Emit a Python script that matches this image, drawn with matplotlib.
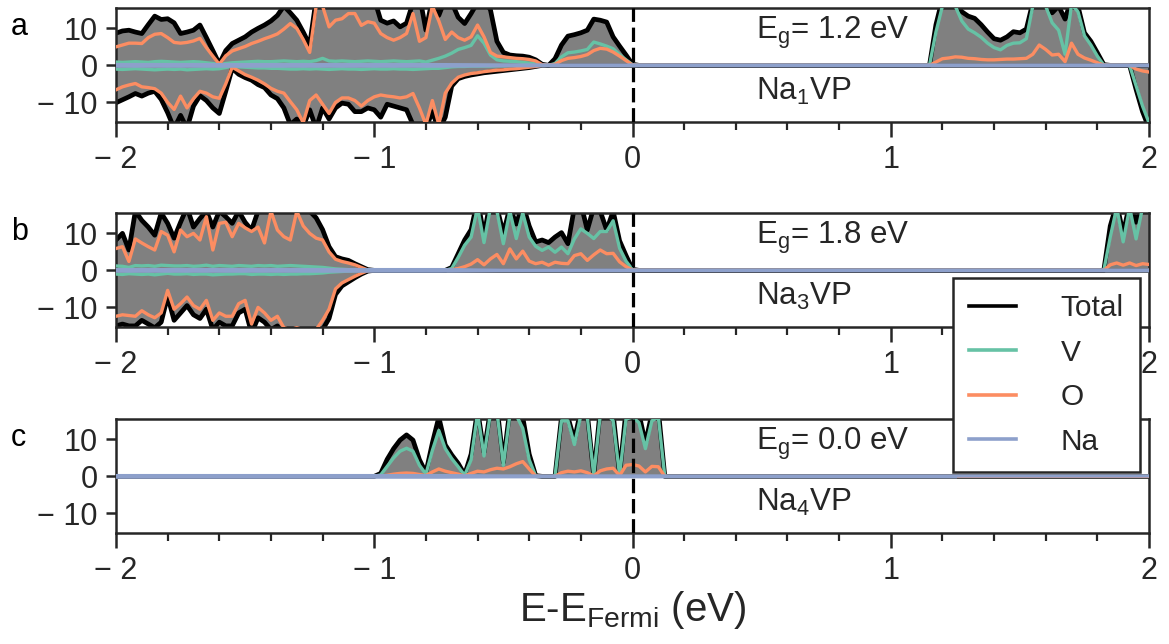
import numpy as np
import matplotlib
matplotlib.use("Agg")
import matplotlib.pyplot as plt
from matplotlib.ticker import MultipleLocator, FixedLocator, FixedFormatter
from matplotlib.lines import Line2D

plt.rcParams['font.family'] = ['Liberation Sans', 'DejaVu Sans']
plt.rcParams['mathtext.fontset'] = 'custom'
plt.rcParams['mathtext.rm'] = 'Liberation Sans'
plt.rcParams['mathtext.it'] = 'Liberation Sans:italic'
plt.rcParams['mathtext.default'] = 'regular'

# ---------------------------------------------------------------- energy grid
STEP = 0.025
E = np.round(np.arange(-2.0, 2.0 + STEP / 2, STEP), 3)

# ---------------------------------------------------------------- Na1VP (a)
a_tot_up_vb = [8.7, 9.3, 9.5, 9.0, 8.6, 11.0, 13.3, 12.4, 12.6, 11.5,
               8.6, 9.0, 9.5, 10.9, 7.5, 4.0, 0.4, 4.0, 5.9, 6.8,
               7.7, 9.0, 10.0, 10.9, 12.0, 13.5, 16.0, 14.2, 12.2, 9.0,
               5.5, 18.0, 19.0, 17.0, 20.0, 18.0, 20.0, 17.0, 19.0, 16.5,
               18.0, 12.2, 11.4, 12.0, 10.4, 11.4, 17.0, 19.0, 9.5, 18.0,
               13.5, 18.0, 17.0, 13.0, 11.3, 14.0, 17.0, 18.0, 15.0, 6.5,
               3.5, 2.8, 2.6, 2.5, 2.2, 1.5, 0.3]
a_o_up_vb = [5.0, 5.5, 6.0, 6.0, 5.9, 7.5, 8.4, 8.6, 7.5, 6.2,
             6.0, 6.2, 6.6, 7.3, 4.8, 2.5, 0.3, 2.6, 3.9, 4.5,
             5.1, 5.9, 6.5, 7.2, 7.8, 8.5, 9.8, 11.3, 10.0, 7.0,
             3.5, 16.0, 16.0, 10.4, 12.2, 12.6, 14.0, 14.0, 10.8, 11.8,
             11.4, 8.6, 7.5, 6.8, 7.5, 8.6, 14.0, 6.5, 7.5, 16.0,
             12.0, 7.0, 9.0, 7.5, 6.8, 7.7, 10.9, 7.7, 3.5, 2.5,
             2.3, 2.1, 1.9, 1.8, 1.6, 1.2, 0.2]
a_v_up_vb = [0.9, 0.8, 0.9, 1.0, 0.9, 0.8, 1.0, 1.1, 1.0, 0.9,
             0.8, 0.9, 1.0, 0.9, 0.7, 0.5, 0.2, 0.5, 0.7, 0.8,
             0.9, 1.0, 1.1, 1.0, 1.0, 1.1, 1.2, 1.1, 1.0, 1.1,
             1.0, 1.3, 1.9, 1.2, 1.1, 1.2, 1.1, 1.0, 1.1, 1.2,
             1.1, 1.0, 1.1, 1.2, 1.1, 1.0, 1.1, 1.2, 0.9, 1.4,
             1.9, 2.5, 3.3, 4.3, 4.8, 5.4, 8.0, 6.0, 2.8, 1.5,
             1.2, 1.1, 1.0, 0.8, 0.6, 0.4, 0.1]
a_tot_dn_vb = [-10.1, -9.3, -8.5, -7.6, -8.3, -7.5, -7.0, -9.2, -12.8, -17.0,
               -13.5, -17.0, -11.0, -8.2, -9.5, -11.5, -13.0, -7.0, -0.8, -2.4,
               -3.3, -4.0, -5.2, -6.0, -8.0, -9.0, -11.5, -16.0, -14.5, -16.5,
               -12.0, -17.0, -11.5, -14.5, -11.5, -10.2, -10.5, -12.5, -12.5, -11.5,
               -12.0, -14.0, -10.5, -11.0, -11.5, -12.0, -16.0, -17.0, -17.0, -12.5,
               -17.5, -14.0, -5.6, -3.6, -3.0, -2.6, -2.3, -2.0, -1.8, -1.6,
               -1.4, -1.2, -1.0, -0.8, -0.6, -0.3, 0.0]
a_o_dn_vb = [-6.6, -5.8, -5.3, -4.9, -5.8, -6.0, -6.3, -7.5, -10.0, -11.9,
             -8.3, -11.5, -9.0, -7.0, -7.5, -8.5, -8.9, -5.0, -0.5, -1.5,
             -2.5, -3.2, -4.0, -5.0, -6.2, -7.0, -7.5, -9.8, -12.0, -15.5,
             -9.5, -8.0, -10.5, -13.0, -10.0, -8.8, -8.8, -9.5, -11.0, -9.5,
             -8.5, -8.0, -8.3, -8.5, -8.8, -8.5, -7.6, -11.5, -16.0, -9.5,
             -16.0, -7.5, -4.8, -3.2, -2.6, -2.2, -2.0, -1.7, -1.5, -1.3,
             -1.2, -1.0, -0.9, -0.7, -0.5, -0.3, 0.0]
a_v_dn_vb = [-1.0, -1.1, -1.0, -0.9, -1.0, -1.1, -1.2, -1.1, -1.0, -1.1,
             -1.0, -1.2, -1.1, -1.0, -0.9, -1.0, -0.9, -0.6, -0.2, -0.4,
             -0.5, -0.6, -0.7, -0.7, -0.8, -0.8, -0.9, -1.0, -1.0, -0.9,
             -1.0, -0.9, -1.0, -1.1, -1.0, -0.9, -1.0, -1.0, -1.1, -1.0,
             -0.9, -1.0, -1.0, -0.9, -1.0, -1.0, -1.1, -1.0, -0.9, -0.8,
             -0.8, -0.6, -0.4, -0.3, -0.3, -0.2, -0.2, -0.2, -0.2, -0.1,
             -0.1, -0.1, -0.1, -0.1, -0.1, 0.0, 0.0]
a_tot_up_pk = [0.0, 1.8, 5.5, 7.9, 8.3, 8.8, 9.5, 12.5, 12.2, 11.7, 7.7, 5.2, 2.8, 0.3]
a_v_up_pk = [0.0, 0.5, 2.3, 3.4, 3.6, 3.9, 4.3, 6.3, 5.8, 5.2, 4.5, 2.9, 1.5, 0.2]
a_o_up_pk = [0.0, 0.3, 1.3, 1.9, 2.1, 2.4, 2.9, 4.0, 4.6, 4.4, 3.6, 2.5, 1.3, 0.1]
a_tot_up_cb = [0.0, 11.0, 18.0, 19.0, 17.0, 14.5, 13.3, 12.7, 11.0, 9.0,
               7.2, 6.8, 7.7, 9.1, 8.8, 9.8, 17.0, 20.0, 18.0, 14.2,
               16.0, 12.5, 18.0, 16.0, 8.8, 6.5, 3.4, 0.2]
a_v_up_cb = [0.0, 9.0, 16.0, 18.0, 16.0, 12.0, 9.8, 8.8, 7.6, 6.0,
             4.8, 4.2, 5.4, 6.0, 6.1, 7.2, 16.0, 18.0, 16.0, 11.5,
             9.5, 3.0, 16.5, 14.5, 8.0, 5.5, 2.5, 0.1]
a_o_up_cb = [0.0, 0.9, 1.8, 2.0, 2.3, 2.2, 1.9, 1.8, 1.6, 1.5,
             1.5, 1.6, 1.7, 1.7, 1.8, 1.9, 3.0, 5.5, 4.3, 2.8,
             3.0, 1.0, 6.0, 3.0, 2.0, 1.4, 0.7, 0.1]
a_tot_dn_cb = [0.0, 0.0, -6.5, -12.5, -17.0]
a_v_dn_cb = [0.0, 0.0, -5.5, -11.0, -15.5]
a_o_dn_cb = [0.0, 0.0, -1.0, -1.5, -1.8]

# ---------------------------------------------------------------- Na3VP (b)
b_tot_up_vb = [8.2, 10.0, 5.5, 16.0, 13.5, 11.7, 9.5, 15.5, 12.7, 8.7,
               13.0, 17.0, 11.7, 14.0, 16.0, 11.7, 16.0, 14.5, 12.7, 16.0,
               13.0, 10.9, 16.0, 17.0, 17.0, 16.0, 17.0, 16.0, 17.0, 16.0,
               16.0, 14.2, 11.0, 6.4, 3.7, 3.1, 2.7, 1.8, 1.0, 0.2]
b_o_up_vb = [5.9, 6.4, 2.4, 8.5, 7.4, 6.4, 5.5, 10.5, 9.5, 5.0,
             10.9, 9.1, 10.0, 8.2, 14.5, 5.5, 12.7, 13.0, 9.1, 12.7,
             11.5, 10.5, 11.7, 7.4, 16.0, 10.9, 9.1, 8.2, 16.0, 12.0,
             10.0, 8.7, 8.2, 5.0, 3.0, 2.4, 2.0, 1.5, 0.8, 0.1]
b_v_up_vb = [1.2, 1.1, 0.8, 1.3, 1.2, 1.3, 1.1, 1.4, 1.3, 1.2,
             1.2, 1.3, 1.1, 1.2, 1.4, 1.1, 1.3, 1.2, 1.1, 1.3,
             1.2, 1.1, 1.3, 1.2, 1.3, 1.1, 1.2, 1.3, 1.2, 1.1,
             1.0, 0.9, 0.8, 0.6, 0.4, 0.3, 0.2, 0.1, 0.1, 0.0]
b_tot_dn_vb = [-15.0, -14.5, -15.0, -15.0, -13.5, -14.5, -15.5, -14.0, -7.0, -13.5,
               -11.5, -9.5, -12.0, -13.0, -10.5, -16.0, -14.0, -15.0, -15.0, -11.5,
               -10.5, -17.0, -12.8, -14.0, -16.0, -15.0, -18.0, -18.0, -17.5, -18.0,
               -18.0, -17.5, -16.0, -13.0, -6.5, -4.2, -3.1, -2.0, -1.0, -0.2]
b_o_dn_vb = [-12.4, -12.0, -12.2, -12.4, -10.9, -12.0, -12.8, -11.5, -5.4, -10.5,
             -9.0, -7.2, -9.5, -10.5, -8.1, -13.5, -11.5, -12.4, -12.4, -9.0,
             -8.1, -14.5, -10.0, -11.5, -13.5, -12.4, -15.5, -16.0, -15.5, -16.0,
             -16.0, -16.0, -13.5, -10.5, -5.0, -3.4, -2.5, -1.6, -0.8, -0.1]
b_v_dn_vb = [-1.0, -1.1, -0.9, -1.0, -1.1, -1.0, -1.2, -1.0, -0.8, -1.0,
             -1.0, -0.9, -1.1, -1.0, -1.0, -1.2, -1.1, -1.0, -1.0, -0.9,
             -0.9, -1.1, -1.0, -1.0, -1.1, -1.0, -1.1, -1.0, -1.0, -0.9,
             -0.9, -0.8, -0.7, -0.5, -0.4, -0.3, -0.2, -0.1, -0.1, 0.0]
b_tot_up_pk = [0.0, 0.8, 4.5, 8.2, 11.0, 19.0, 9.5, 19.0, 17.0, 10.0,
               17.0, 12.5, 18.0, 12.0, 7.7, 8.2, 7.5, 9.0, 10.2, 7.2,
               17.0, 18.0, 10.9, 17.0, 16.0, 10.9, 16.0, 8.0, 4.0, 0.3]
b_v_up_pk = [0.0, 0.5, 3.5, 6.8, 9.0, 17.0, 7.5, 17.0, 16.0, 7.2,
             16.0, 8.6, 15.5, 9.0, 6.5, 5.4, 6.3, 4.9, 6.3, 4.5,
             8.5, 11.2, 10.0, 8.6, 10.5, 10.5, 13.4, 6.0, 2.5, 0.2]
b_o_up_pk = [0.0, 0.2, 0.5, 1.0, 1.7, 2.9, 1.5, 3.1, 4.3, 1.8,
             5.8, 3.1, 5.2, 2.5, 1.8, 2.2, 1.4, 2.2, 1.9, 1.8,
             4.0, 4.5, 2.7, 4.2, 5.5, 4.5, 4.6, 2.3, 1.0, 0.1]
b_tot_up_cb = [0.0, 12.0, 18.0, 10.0, 18.0, 13.0, 18.0, 18.0]
b_v_up_cb = [0.0, 9.0, 17.0, 7.7, 17.0, 8.5, 17.0, 16.0]
b_o_up_cb = [0.0, 1.5, 2.0, 1.4, 2.0, 1.3, 1.8, 1.6]

# ---------------------------------------------------------------- Na4VP (c)
c_tot_up = [0.0, 0.8, 4.6, 7.5, 9.8, 11.2, 9.8, 4.5, 1.0, 9.0,
            16.0, 8.5, 5.8, 3.5, 0.5, 6.0, 18.0, 6.5, 18.0, 19.0,
            3.8, 18.0, 19.0, 16.0, 6.0, 0.2, 0.0, 0.0, 0.0, 16.0,
            16.0, 9.8, 18.0, 17.0, 0.3, 18.0, 19.0, 17.0, 0.5, 18.0,
            19.0, 17.0, 8.9, 17.0, 18.0, 0.0]
c_v_up = [0.0, 0.4, 2.7, 5.0, 6.8, 7.6, 6.8, 3.0, 0.6, 7.0,
          12.4, 7.5, 4.8, 2.6, 0.3, 4.5, 17.0, 5.5, 17.0, 17.5,
          3.0, 16.5, 16.5, 13.0, 4.5, 0.1, 0.0, 0.0, 0.0, 15.0,
          15.0, 8.6, 16.5, 16.0, 0.2, 16.5, 17.0, 15.0, 0.3, 15.5,
          16.0, 14.5, 7.5, 15.0, 16.0, 0.0]
c_o_up = [0.0, 0.1, 0.3, 0.6, 0.8, 0.9, 0.8, 0.5, 0.2, 1.2,
          2.0, 1.4, 1.0, 0.6, 0.1, 0.8, 1.4, 1.2, 1.8, 2.2,
          2.0, 2.6, 3.4, 4.0, 2.0, 0.1, 0.0, 0.0, 0.0, 1.0,
          1.4, 1.2, 1.5, 1.0, 0.1, 1.5, 2.0, 2.2, 0.2, 3.0,
          3.2, 2.8, 1.2, 2.7, 2.6, 0.0]

# Na projections (coarse 0.25 eV sampling, essentially flat at zero)
na_energy = [-2.0, -1.75, -1.5, -1.25, -1.0, -0.75, -0.5, -0.25, 0.0,
             0.25, 0.5, 0.75, 1.0, 1.25, 1.5, 1.75, 2.0]
na_up = [0.2, 0.2, 0.2, 0.2, 0.2, 0.2, 0.1, 0.1, 0.1,
         0.1, 0.1, 0.1, 0.1, 0.1, 0.1, 0.1, 0.1]
na_dn = [-0.2, -0.2, -0.2, -0.2, -0.2, -0.2, -0.1, -0.1, -0.1,
         -0.1, -0.1, -0.1, -0.1, -0.1, -0.1, -0.1, -0.1]
na_dn_points_c = 14   # the Na4VP spin-down projection stops at 1.25 eV

gaps = ['1.2', '1.8', '0.0']
formulas = [r'Na$_{\rm 1}$VP', r'Na$_{\rm 3}$VP', r'Na$_{\rm 4}$VP']
panel_tags = ['a', 'b', 'c']
x_tick_labels = ['\u2212 2', '\u2212 1', '0', '1', '2']
y_tick_labels = ['\u2212 10', '0', '10']


def on_grid(*segments):
    """Place (start energy, values) segments onto the common grid."""
    out = np.zeros_like(E)
    for start, vals in segments:
        i0 = int(round((start + 2.0) / STEP))
        out[i0:i0 + len(vals)] = vals
    return out


panels = [
    dict(tot_up=on_grid((-2.0, a_tot_up_vb), (-0.325, a_tot_up_pk), (1.15, a_tot_up_cb)),
         v_up=on_grid((-2.0, a_v_up_vb), (-0.325, a_v_up_pk), (1.15, a_v_up_cb)),
         o_up=on_grid((-2.0, a_o_up_vb), (-0.325, a_o_up_pk), (1.15, a_o_up_cb)),
         tot_dn=on_grid((-2.0, a_tot_dn_vb), (1.9, a_tot_dn_cb)),
         v_dn=on_grid((-2.0, a_v_dn_vb), (1.9, a_v_dn_cb)),
         o_dn=on_grid((-2.0, a_o_dn_vb), (1.9, a_o_dn_cb)),
         na_dn_n=len(na_energy)),
    dict(tot_up=on_grid((-2.0, b_tot_up_vb), (-0.725, b_tot_up_pk), (1.825, b_tot_up_cb)),
         v_up=on_grid((-2.0, b_v_up_vb), (-0.725, b_v_up_pk), (1.825, b_v_up_cb)),
         o_up=on_grid((-2.0, b_o_up_vb), (-0.725, b_o_up_pk), (1.825, b_o_up_cb)),
         tot_dn=on_grid((-2.0, b_tot_dn_vb)),
         v_dn=on_grid((-2.0, b_v_dn_vb)),
         o_dn=on_grid((-2.0, b_o_dn_vb)),
         na_dn_n=len(na_energy)),
    dict(tot_up=on_grid((-1.0, c_tot_up)),
         v_up=on_grid((-1.0, c_v_up)),
         o_up=on_grid((-1.0, c_o_up)),
         tot_dn=None, v_dn=None, o_dn=None,
         na_dn_n=na_dn_points_c),
]

C_TOT = 'black'
C_V = '#66c2a5'
C_O = '#fc8d62'
C_NA = '#8da0cb'
C_FILL = '#808080'
TXT = '#262626'

FS_TICK = 22
FS_TEXT = 22.5
FS_LEG = 21.5
W, H = 1169, 644
fig = plt.figure(figsize=(W / 100, H / 100), dpi=100)

left, right = 116, 1149
tops = [8, 213, 419]
ax_h = 114

for k, (p, top) in enumerate(zip(panels, tops)):
    ax = fig.add_axes([left / W, 1 - (top + ax_h) / H, (right - left) / W, ax_h / H])
    ax.fill_between(E, p['tot_up'], 0, color=C_FILL, lw=0, zorder=1)
    ax.plot(E, p['tot_up'], color=C_TOT, lw=3.4, zorder=2, solid_joinstyle='round')
    ax.plot(E, p['v_up'], color=C_V, lw=2.4, zorder=3)
    ax.plot(E, p['o_up'], color=C_O, lw=2.4, zorder=4)
    if p['tot_dn'] is not None:
        ax.fill_between(E, p['tot_dn'], 0, color=C_FILL, lw=0, zorder=1)
        ax.plot(E, p['tot_dn'], color=C_TOT, lw=3.4, zorder=2, solid_joinstyle='round')
        ax.plot(E, p['v_dn'], color=C_V, lw=2.4, zorder=3)
        ax.plot(E, p['o_dn'], color=C_O, lw=2.4, zorder=4)
    ax.plot(na_energy, na_up, color=C_NA, lw=2.4, zorder=5)
    n = p['na_dn_n']
    ax.plot(na_energy[:n], na_dn[:n], color=C_NA, lw=2.4, zorder=5)
    ax.axvline(0, color='black', lw=2.3, ls=(0, (4.5, 1.8)), zorder=6)

    ax.set_xlim(-2, 2)
    ax.set_ylim(-15.3, 15.5)
    ax.xaxis.set_major_locator(FixedLocator([-2, -1, 0, 1, 2]))
    ax.xaxis.set_major_formatter(FixedFormatter(x_tick_labels))
    ax.xaxis.set_minor_locator(MultipleLocator(0.2))
    ax.yaxis.set_major_locator(FixedLocator([-10, 0, 10]))
    ax.yaxis.set_major_formatter(FixedFormatter(y_tick_labels))
    ax.tick_params(axis='x', which='major', direction='out', length=10.5, width=1.8,
                   pad=6, labelsize=FS_TICK, colors=TXT)
    ax.tick_params(axis='x', which='minor', direction='out', length=6, width=1.6,
                   colors=TXT)
    ax.tick_params(axis='y', which='major', direction='out', length=7, width=1.8,
                   pad=6, labelsize=FS_TICK, colors=TXT)
    for s in ax.spines.values():
        s.set_linewidth(1.8)
        s.set_color(TXT)

    ax.text(0.48, 8.7, r'E$_{\rm g}$= ' + gaps[k] + ' eV', fontsize=FS_TEXT,
            color=TXT, ha='left', va='center', zorder=7)
    ax.text(0.48, -7.1, formulas[k], fontsize=FS_TEXT, color=TXT,
            ha='left', va='center', zorder=7)
    fig.text(11 / W, 1 - (top + 19) / H, panel_tags[k], fontsize=FS_TICK,
             color='black', ha='left', va='center')

fig.text(633 / W, 1 - 610 / H, r'E-E$_{\rm Fermi}$ (eV)', fontsize=29,
         color=TXT, ha='center', va='center')

handles = [Line2D([], [], color=C_TOT, lw=2.6),
           Line2D([], [], color=C_V, lw=2.6),
           Line2D([], [], color=C_O, lw=2.6),
           Line2D([], [], color=C_NA, lw=2.6)]
leg = fig.legend(handles, ['Total', 'V', 'O', 'Na'], loc='upper left',
                 bbox_to_anchor=(953 / W, 1 - 278 / H), borderaxespad=0,
                 fontsize=FS_LEG, frameon=True, fancybox=False, framealpha=1,
                 edgecolor=TXT, handlelength=1.55, handletextpad=1.5,
                 labelspacing=0.55, borderpad=0.55)
leg.get_frame().set_linewidth(1.8)
for t in leg.get_texts():
    t.set_color(TXT)

fig.savefig('out.png', dpi=100)
